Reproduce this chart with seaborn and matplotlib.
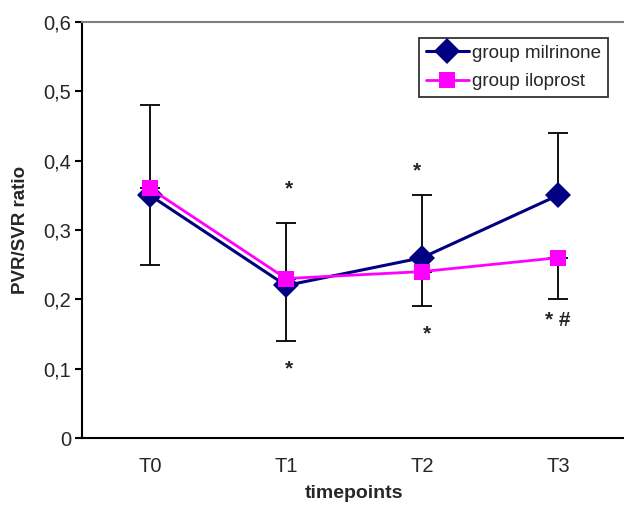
import matplotlib
matplotlib.use("Agg")
import matplotlib.pyplot as plt
import seaborn as sns
import pandas as pd
import numpy as np

timepoints = ["T0", "T1", "T2", "T3"]
milrinone = [0.35, 0.22, 0.26, 0.35]
iloprost = [0.36, 0.23, 0.24, 0.26]
milrinone_err_up = [0.13, 0.09, 0.09, 0.09]
iloprost_err_down = [0.11, 0.09, 0.05, 0.06]
yticks = [0, 0.1, 0.2, 0.3, 0.4, 0.5, 0.6]
ytick_labels = ["0", "0,1", "0,2", "0,3", "0,4", "0,5", "0,6"]
annotations = [(1, 0.36, "*"), (1, 0.10, "*"), (2, 0.385, "*"), (2, 0.15, "*"), (3, 0.17, "* #")]
annot_dx = [0.02, 0.02, -0.04, 0.04, 0.0]

sns.set_style("white")
plt.rcParams["font.family"] = ["Liberation Sans", "DejaVu Sans"]

df = pd.DataFrame({
    "timepoint": timepoints * 2,
    "value": milrinone + iloprost,
    "group": ["group milrinone"] * 4 + ["group iloprost"] * 4,
})

fig = plt.figure(figsize=(6.24, 5.07), dpi=100)
ax = fig.add_axes([82 / 624, 1 - 438 / 507, 544 / 624, 416 / 507])

x = np.arange(len(timepoints))
ax.errorbar(x, milrinone, yerr=[np.zeros(4), milrinone_err_up], fmt="none",
            ecolor="black", elinewidth=1.3, capsize=7, capthick=1.3, zorder=1)
ax.errorbar(x, iloprost, yerr=[iloprost_err_down, np.zeros(4)], fmt="none",
            ecolor="black", elinewidth=1.3, capsize=7, capthick=1.3, zorder=1)

sns.lineplot(data=df[df.group == "group milrinone"], x=x, y="value", color="#000080",
             marker="D", markersize=13, markeredgewidth=0, linewidth=2.2, ax=ax,
             label="group milrinone", zorder=3)
sns.lineplot(data=df[df.group == "group iloprost"], x=x, y="value", color="#FF00FF",
             marker="s", markersize=12, markeredgewidth=0, linewidth=2.0, ax=ax,
             label="group iloprost", zorder=4)

for (xi, yi, t), dx in zip(annotations, annot_dx):
    ax.text(xi + dx, yi, t, ha="center", va="center", fontsize=15, fontweight="bold")

ax.set_xlim(-0.5, 3.5)
ax.set_ylim(0, 0.6)
ax.set_yticks(yticks)
ax.set_yticklabels(ytick_labels, fontsize=14.5)
ax.set_xticks(x)
ax.set_xticklabels(timepoints, fontsize=14.5)
ax.set_xticks([-0.5, 0.5, 1.5, 2.5, 3.5], minor=True)
ax.tick_params(axis="x", which="major", length=0, pad=14)
ax.tick_params(axis="x", which="minor", length=5, width=1.5, direction="out", color="black")
ax.tick_params(axis="y", which="major", length=5, width=1.5, direction="out", color="black", pad=3, left=True)

ax.spines["right"].set_visible(False)
ax.spines["top"].set_color("#808080")
ax.spines["top"].set_linewidth(1.5)
for s in ["left", "bottom"]:
    ax.spines[s].set_color("black")
    ax.spines[s].set_linewidth(1.5)

ax.set_xlabel("timepoints", fontsize=14, fontweight="bold", labelpad=6)
ax.set_ylabel("PVR/SVR ratio", fontsize=13.5, fontweight="bold", labelpad=10)

leg = ax.legend(loc="upper right", bbox_to_anchor=((608 - 82) / 544, 1 - 16 / 416),
                fontsize=13.5, frameon=True, fancybox=False, edgecolor="black",
                handlelength=2.3, borderpad=0.35, labelspacing=0.6, handletextpad=0.2,
                borderaxespad=0)
leg.get_frame().set_linewidth(1.3)

fig.savefig("out.png", dpi=100)
